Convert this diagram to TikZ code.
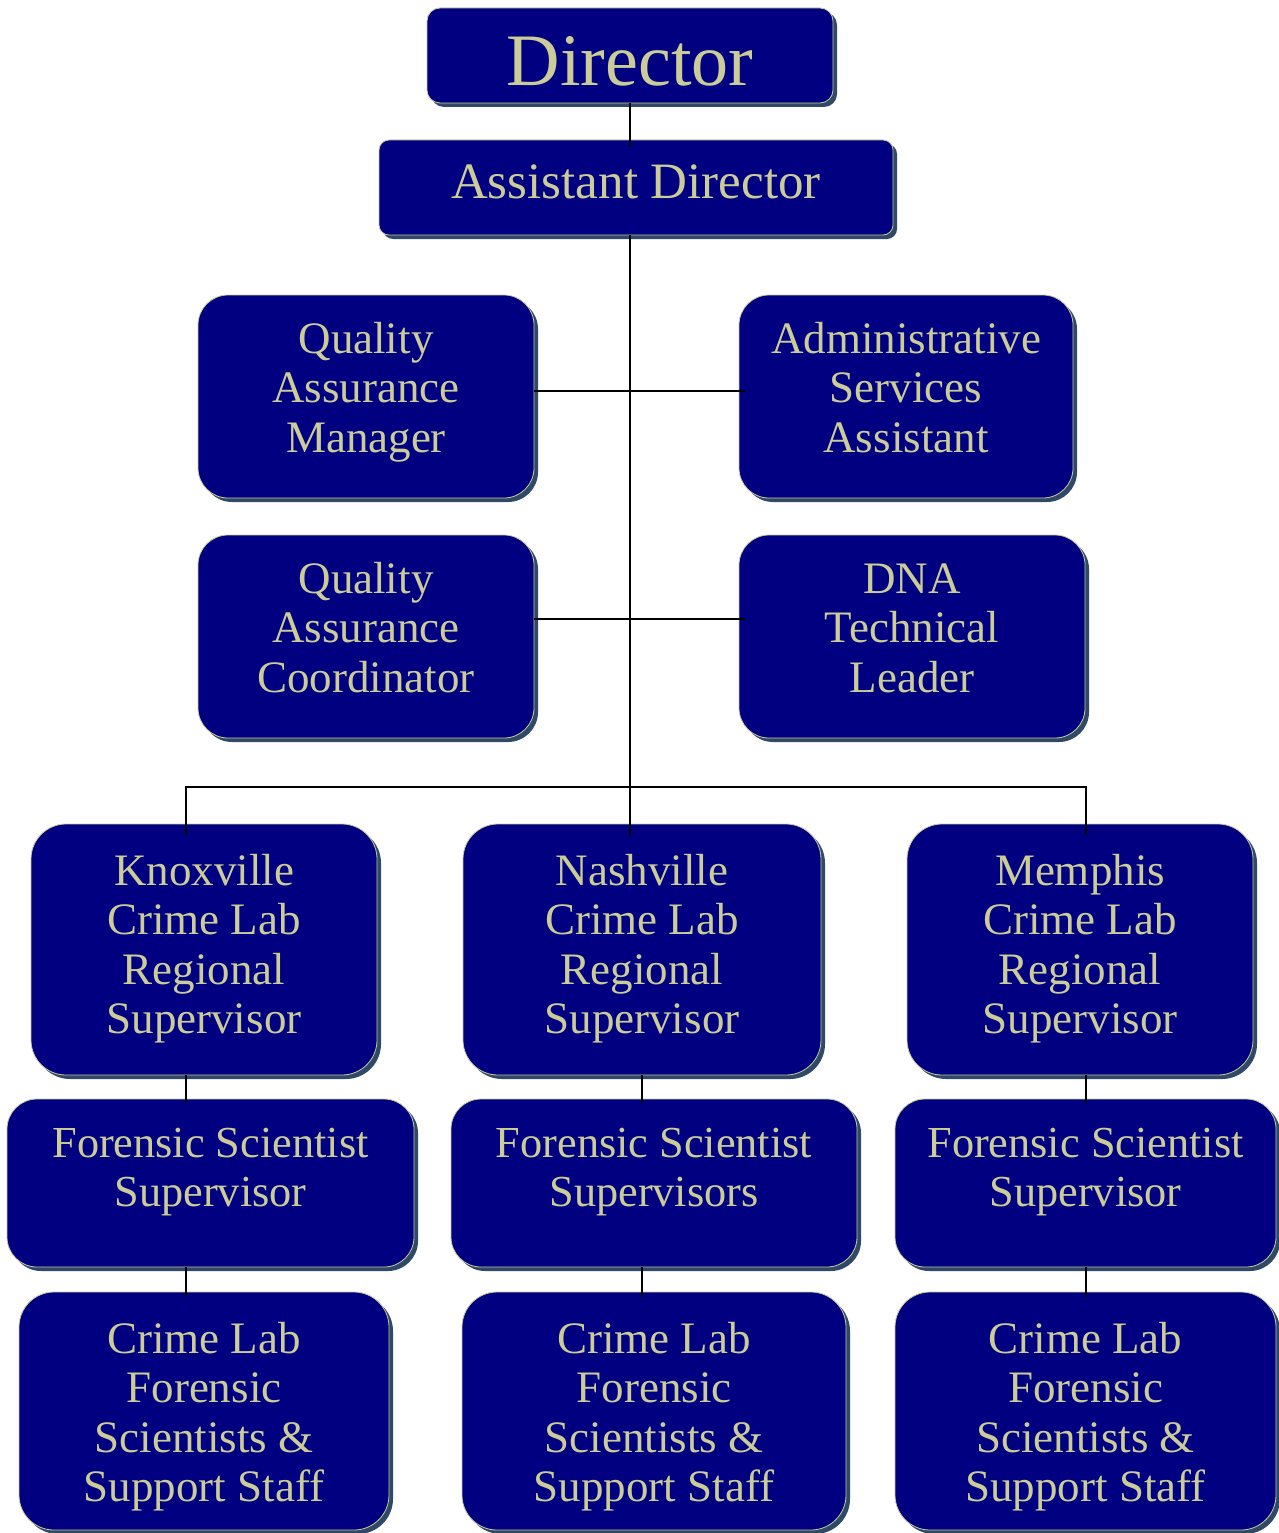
\documentclass[tikz,border=0pt]{standalone}
\usepackage{fontspec}
\setmainfont{Liberation Serif}
\usetikzlibrary{shadows,calc}
\definecolor{boxnavy}{RGB}{0,0,128}
\definecolor{boxtan}{RGB}{204,204,153}
\definecolor{boxshadow}{RGB}{47,74,102}
\newcommand\orgtext[6]{\parbox[c][#2pt][t]{#1pt}{\centering\fontsize{#4pt}{#5pt}\selectfont\vspace*{#3pt}\rule{0pt}{0.7em}#6}}
\tikzset{
  orgbox/.style={draw=boxtan, line width=0.8pt, fill=boxnavy, text=boxtan,
    inner sep=0pt, outer sep=0pt,
    drop shadow={shadow xshift=4pt, shadow yshift=-4pt, fill=boxshadow, opacity=1, draw=none}},
  link/.style={line width=2.4pt, draw=black},
}
\begin{document}
\begin{tikzpicture}[x=1pt,y=-1pt]
\useasboundingbox (0,0) rectangle (1278,1533);
% top
\node[orgbox, rounded corners=13pt] (dir) at (630,55.5) {\orgtext{406}{95}{26.2}{74}{80}{Director}};
\node[orgbox, rounded corners=10pt] (ad) at (636,187.5) {\orgtext{514}{95}{22.3}{51}{55}{Assistant Director}};
% staff
\node[orgbox, rounded corners=30pt] (qam) at (366,396.5) {\orgtext{336}{203}{26.5}{45}{49.5}{Quality\\Assurance\\Manager}};
\node[orgbox, rounded corners=30pt] (asa) at (906,396.5) {\orgtext{334}{203}{26.5}{45}{49.5}{Administrative\\Services\\Assistant}};
\node[orgbox, rounded corners=30pt] (qac) at (366,636.5) {\orgtext{336}{203}{26.5}{45}{49.5}{Quality\\Assurance\\Coordinator}};
\node[orgbox, rounded corners=30pt] (dna) at (912,636.5) {\orgtext{346}{203}{26.5}{45}{49.5}{DNA\\Technical\\Leader}};
% regional supervisors
\node[orgbox, rounded corners=35pt] (kx) at (204,949.5) {\orgtext{346}{251}{29.5}{45}{49.5}{Knoxville\\Crime Lab\\Regional\\Supervisor}};
\node[orgbox, rounded corners=35pt] (nv) at (642,949.5) {\orgtext{358}{251}{29.5}{45}{49.5}{Nashville\\Crime Lab\\Regional\\Supervisor}};
\node[orgbox, rounded corners=35pt] (mp) at (1080,949.5) {\orgtext{346}{251}{29.5}{45}{49.5}{Memphis\\Crime Lab\\Regional\\Supervisor}};
% forensic scientist supervisors
\node[orgbox, rounded corners=30pt] (fss1) at (210.5,1183) {\orgtext{407}{168}{27}{44.3}{49.5}{Forensic Scientist\\Supervisor}};
\node[orgbox, rounded corners=30pt] (fss2) at (654,1183) {\orgtext{406}{168}{27}{44.3}{49.5}{Forensic Scientist\\Supervisors}};
\node[orgbox, rounded corners=30pt] (fss3) at (1085.5,1183) {\orgtext{381}{168}{27}{44.3}{49.5}{Forensic Scientist\\Supervisor}};
% staff
\node[orgbox, rounded corners=35pt] (cl1) at (204,1411) {\orgtext{370}{238}{29.5}{45}{49.5}{Crime Lab\\Forensic\\Scientists \&\\Support Staff}};
\node[orgbox, rounded corners=35pt] (cl2) at (654,1411) {\orgtext{384}{238}{29.5}{45}{49.5}{Crime Lab\\Forensic\\Scientists \&\\Support Staff}};
\node[orgbox, rounded corners=35pt] (cl3) at (1085.5,1411) {\orgtext{381}{238}{29.5}{45}{49.5}{Crime Lab\\Forensic\\Scientists \&\\Support Staff}};
% connectors
\coordinate (h1) at (630,391);
\coordinate (h2) at (630,619);
\coordinate (busL) at (186,787);
\coordinate (busR) at (1086,787);
\draw[link, shorten >=-7pt] (dir.south) -- (dir.south |- ad.north);
\draw[link, shorten >=-12pt] (dir.south |- ad.south) -- (dir.south |- nv.north);
\draw[link, shorten >=-6pt] (h1 -| qam.east) -- (h1 -| asa.west);
\draw[link, shorten >=-6pt] (h2 -| qac.east) -- (h2 -| dna.west);
\draw[link, shorten <=-11pt, shorten >=-11pt] (busL |- kx.north) -- (busL) -- (busR) -- (busR |- mp.north);
\draw[link, shorten >=-4pt] (kx.south -| busL) -- (fss1.north -| busL);
\draw[link, shorten >=-5pt] (fss1.south -| busL) -- (cl1.north -| busL);
\draw[link, shorten >=-4pt] (nv.south) -- (nv.south |- fss2.north);
\draw[link, shorten >=-5pt] (nv.south |- fss2.south) -- (nv.south |- cl2.north);
\draw[link, shorten >=-4pt] (mp.south -| busR) -- (fss3.north -| busR);
\draw[link, shorten >=-5pt] (fss3.south -| busR) -- (cl3.north -| busR);
\end{tikzpicture}
\end{document}
